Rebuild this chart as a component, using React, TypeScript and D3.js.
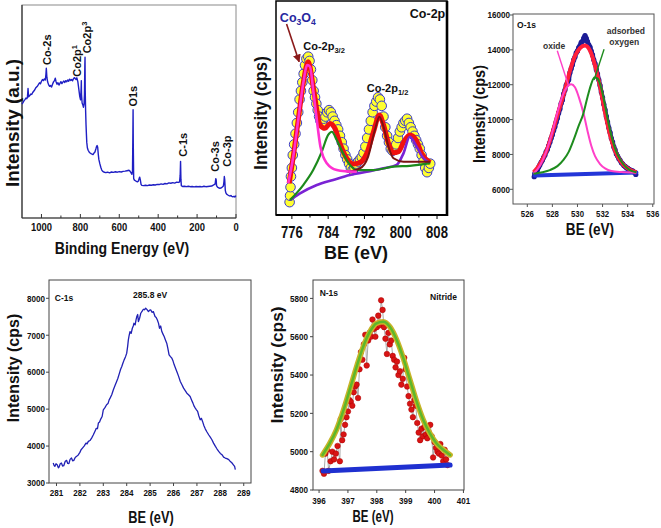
import React from 'react';
import * as d3 from 'd3';

const FONT = '"Liberation Sans", Arial, Helvetica, sans-serif';
type Pt = [number, number];
const pairs = (a: number[], b: number[]): Pt[] => a.map((v, i) => [v, b[i]] as Pt);

// ================= Panel (a): XPS survey =================
const surveyEnergy = [1100,1095,1090,1085,1080,1075,1072,1069,1066,1060,1055,1050,1045,1040,1035,1030,1025,1020,1015,1010,1005,1000,995,990,985,980,977,975,972,968,963,958,953,948,943,938,933,929,925,920,915,910,905,900,895,890,885,880,875,870,865,860,855,850,845,840,835,830,827,822,818,813,808,803,799,796,795,794,791,787,784,781,779,777,776,775,773,771,769,767,764,760,755,750,745,740,735,730,725,720,717,714,711,708,705,700,695,690,685,680,670,660,650,640,630,620,610,600,590,580,570,560,550,545,540,535,532,530,529,528,526,522,517,512,507,502,498,495,492,488,484,475,465,455,445,435,425,415,405,395,385,375,365,355,345,335,325,315,305,295,290,287,285,283,281,275,265,255,245,235,225,215,205,195,185,175,165,155,145,135,125,115,107,104,102,100,95,90,85,80,75,70,65,62,60,58,55,52,48,42,36,30,26,22,18,14,10,6,2,0];
const surveyIntensity = [53.5,54.2,55.0,55.6,56.3,56.0,56.8,60.8,56.9,57.5,58.2,58.0,58.9,59.5,60.1,61.0,61.5,62.0,62.7,63.5,63.0,64.2,65.0,64.5,65.3,64.8,67.5,70.3,66.0,63.8,62.5,61.8,62.2,61.5,62.8,63.9,64.5,65.6,64.0,62.8,63.5,62.4,63.2,64.0,63.1,63.8,64.3,63.6,64.5,64.0,64.8,64.2,65.2,64.6,65.0,64.4,65.5,65.9,65.5,65.0,65.8,64.0,60.5,57.0,55.5,61.0,64.5,58.0,54.0,53.0,52.0,53.5,58.0,72.0,75.5,60.0,50.5,44.0,39.5,35.5,33.0,31.8,31.0,30.5,30.2,30.0,29.8,30.5,31.0,32.5,33.5,34.0,33.2,30.0,27.5,25.5,23.8,22.5,21.9,21.6,21.3,21.5,21.2,21.6,21.4,21.7,21.5,21.8,21.6,21.9,22.0,22.2,22.4,22.0,21.3,20.5,22.0,40.0,50.8,35.0,18.5,17.8,17.5,17.2,17.0,17.3,18.5,19.2,18.0,15.8,15.3,15.2,15.4,15.2,15.5,15.4,15.6,15.5,15.8,15.7,16.0,15.8,16.2,16.0,16.5,16.3,16.6,16.4,16.8,16.7,17.0,20.0,26.6,18.0,15.2,14.8,14.9,14.7,14.9,14.7,14.8,14.6,14.8,14.7,14.8,14.6,14.9,14.7,14.8,14.9,15.0,15.5,16.0,18.5,18.0,15.2,14.5,14.2,14.0,14.0,14.2,14.6,15.0,17.0,19.5,18.0,13.0,11.8,11.2,10.8,10.5,10.3,10.6,10.2,10.0,10.0,10.2,9.8,10.3,10.5];
const surveyMajorTicks = [1000, 800, 600, 400, 200, 0];
const surveyMinorTicks = [900, 700, 500, 300, 100];
const surveyPeakNames = ['Co-2s', 'Co2p', 'Co2p', 'O1s', 'C-1s', 'Co-3s', 'Co-3p'];
const surveyPeakSup = ['', '1', '3', '', '', '', ''];
const surveyPeakEnergy = [973, 816, 764, 528, 274, 108, 43];
const surveyPeakLevel = [71.8, 66.3, 77.3, 52.3, 28.8, 21.7, 24.1];

// ================= Panel (b): Co-2p =================
const co2pDataBE = [775.5,775.6,775.7,775.8,776.0,776.2,776.5,776.8,777.1,777.4,777.7,778.0,778.3,778.6,778.9,779.2,779.6,779.9,780.2,780.5,780.8,781.1,781.4,781.7,782.0,782.3,782.7,783.0,783.4,783.8,784.2,784.6,785.0,785.4,785.8,786.2,786.6,787.0,787.4,787.8,788.2,788.6,789.0,789.4,789.8,790.2,790.6,791.0,791.4,791.8,792.2,792.6,793.0,793.4,793.8,794.2,794.6,795.0,795.4,795.8,796.2,796.6,797.0,797.4,797.8,798.2,798.6,799.0,799.4,799.8,800.2,800.6,801.0,801.4,801.8,802.2,802.6,803.0,803.4,803.8,804.2,804.6,805.0,805.4,805.8,806.2,806.5];
const co2pDataI = [6,9,13,18,22,28,33,38,43,48,54,58,62,66,70,73,74,72,68,63,58,55,52,49,46,44,43,45,46,48,49,48,46,44,42,40,37,34,31,28,26,24,22,21,22,24,25,26,27,29,32,36,40,44,48,51,53,55,54,51,46,41,37,34,31,30,31,33,36,39,41,43,44,45,43,41,39,37,35,33,31,28,25,22,20,22,24];
const co2pFitBE = [775.4,776.3,777.4,778.5,779.6,780.7,781.5,782.2,783.3,784.4,785.5,786.6,788.1,789.5,791.0,792.5,794.0,795.3,796.2,797.3,798.4,799.5,800.7,802.0,803.4,804.6,806.5];
const co2pFitI = [14.8,27.2,44.4,61.5,71.6,60.0,49.1,42.1,40.5,42.8,40.5,33.5,26.5,23.8,24.5,28.8,38.9,46.7,42.1,33.5,29.1,29.6,34.3,37.4,35.0,28.8,24.5];
const co2pMainBE = [775.2,776.3,777.4,778.5,779.4,780.0,780.7,781.5,782.3,783.7,785.9,788.0,790.3];
const co2pMainI = [14.8,27.2,44.4,61.5,70.1,69.3,58.4,44.4,31.9,24.2,21.0,20.4,20.2];
const co2pSatBE = [775.6,778.5,780.7,782.6,784.0,784.8,785.9,787.3,788.8,790.3,794.0,798.4,802.0,806.5];
const co2pSatI = [7.0,14.0,21.0,29.6,37.4,38.9,35.0,28.8,23.4,21.0,21.0,22.6,23.0,24.2];
const co2pHalfBE = [788.1,791.0,792.8,794.3,795.3,796.2,797.3,798.4,800.6,806.5];
const co2pHalfI = [20.2,21.8,27.2,39.7,45.9,41.3,31.9,26.5,24.9,24.9];
const co2pBaseBE = [775.56,777.8,781.5,785.1,788.8,792.5,796.2,799.1,800.6,802.0,803.5,805.0,806.5];
const co2pBaseI = [7.0,10.1,14.0,16.4,18.7,20.2,21.8,23.4,28.8,36.6,31.9,26.5,24.2];
const co2pMajorTicks = [776, 784, 792, 800, 808];
const co2pMinorTicks = [780, 788, 796, 804];

// ================= Panel (c): O-1s =================
const o1sDataBE = [526.55,526.6,526.7,526.8,526.9,527.0,527.1,527.2,527.3,527.4,527.5,527.6,527.7,527.8,527.9,528.0,528.1,528.2,528.3,528.4,528.5,528.6,528.7,528.8,528.9,529.0,529.1,529.2,529.3,529.4,529.5,529.6,529.7,529.8,529.9,530.0,530.1,530.2,530.3,530.4,530.5,530.6,530.7,530.8,530.9,531.0,531.1,531.2,531.3,531.4,531.5,531.6,531.7,531.8,531.9,532.0,532.1,532.2,532.3,532.4,532.5,532.6,532.7,532.8,532.9,533.0,533.1,533.2,533.3,533.4,533.5,533.6,533.7,533.8,533.9,534.0,534.1,534.2,534.3,534.4,534.5,534.6,534.65];
const o1sDataI = [6720,6900,7030,7100,7260,7400,7550,7660,7830,7950,8150,8280,8500,8700,8930,9130,9380,9590,9850,10080,10380,10600,10930,11130,11480,11690,11980,12140,12280,12690,12920,13140,13420,13590,13830,13940,14130,14240,14430,14490,14680,14820,14660,14470,14290,14160,13930,13710,13430,13210,12880,12610,12280,11960,11580,11260,10880,10560,10180,9860,9530,9260,8930,8710,8430,8260,8030,7910,7760,7660,7530,7460,7360,7310,7230,7210,7140,7110,7060,7060,6990,6960,6850];
const o1sFitBE = [526.5,527.0,527.5,528.0,528.5,529.0,529.4,529.8,530.2,530.6,531.0,531.4,531.8,532.2,532.6,533.0,533.4,533.9,534.3,534.7];
const o1sFitI = [6980,7440,8150,9250,10500,11700,12800,13650,14100,14250,13950,13100,11900,10400,9100,8200,7650,7250,7080,6980];
const o1sOxideBE = [526.5,527.0,527.5,528.0,528.4,528.8,529.2,529.5,529.8,530.1,530.5,530.8,531.1,531.4,531.8,532.2,532.7,533.5,534.7];
const o1sOxideI = [6890,7350,8150,9300,10400,11350,11900,12020,11850,11300,10300,9350,8500,7900,7450,7200,7050,6990,6960];
const o1sAdsBE = [526.5,527.2,527.8,528.4,528.9,529.3,529.7,530.1,530.45,530.8,531.1,531.35,531.6,531.9,532.2,532.5,532.8,533.1,533.5,533.9,534.3,534.7];
const o1sAdsI = [6890,6980,7100,7330,7700,8150,8850,9650,10300,11300,12050,12420,12350,11800,10800,9700,8800,8150,7600,7250,7060,6980];
const o1sBaseBE = [526.6, 534.7];
const o1sBaseI = [6790, 6970];
const o1sXTicks = [526, 528, 530, 532, 534, 536];
const o1sYTicks = [6000, 8000, 10000, 12000, 14000, 16000];

// ================= Panel (d): C-1s =================
const c1sBE = [280.86,280.9,280.93,280.98,281.03,281.08,281.11,281.16,281.21,281.26,281.31,281.37,281.43,281.48,281.53,281.58,281.64,281.69,281.74,281.8,281.86,281.93,282.0,282.05,282.11,282.18,282.26,282.31,282.36,282.43,282.5,282.57,282.64,282.7,282.75,282.79,282.84,282.89,282.95,283.0,283.07,283.14,283.2,283.25,283.29,283.36,283.43,283.5,283.57,283.62,283.69,283.74,283.79,283.84,283.89,283.95,284.0,284.04,284.07,284.1,284.14,284.19,284.24,284.28,284.31,284.36,284.4,284.43,284.47,284.5,284.55,284.6,284.66,284.71,284.76,284.81,284.86,284.93,284.98,285.03,285.08,285.14,285.17,285.21,285.26,285.31,285.36,285.4,285.45,285.5,285.55,285.6,285.65,285.71,285.76,285.81,285.87,285.93,285.98,286.03,286.09,286.14,286.21,286.29,286.36,286.43,286.5,286.57,286.64,286.71,286.77,286.83,286.88,286.93,286.98,287.03,287.08,287.14,287.19,287.24,287.3,287.36,287.43,287.5,287.57,287.64,287.71,287.79,287.86,287.93,288.0,288.07,288.14,288.21,288.28,288.36,288.43,288.5,288.55,288.61,288.64];
const c1sI = [3540,3470,3450,3520,3495,3410,3432,3520,3541,3460,3468,3580,3613,3530,3523,3640,3676,3600,3613,3690,3721,3760,3829,3900,3946,4000,4081,4060,4126,4150,4216,4300,4396,4480,4470,4622,4650,4730,4800,4982,5040,5117,5150,5250,5297,5390,5523,5640,5748,5830,5973,6080,6153,6250,6333,6420,6514,6700,6874,6980,7099,7050,7189,7250,7324,7280,7420,7505,7560,7369,7460,7595,7650,7703,7690,7730,7700,7640,7680,7685,7620,7640,7580,7505,7480,7414,7320,7189,7250,7099,7030,6964,6880,6784,6640,6468,6420,6378,6300,6198,6100,6018,5900,5748,5660,5568,5500,5432,5390,5342,5250,5162,5080,5027,4980,4937,4820,4712,4750,4667,4550,4459,4380,4306,4240,4171,4080,3991,3920,3856,3800,3766,3700,3676,3660,3631,3580,3541,3500,3450,3360];
const c1sXTicks = [281, 282, 283, 284, 285, 286, 287, 288, 289];
const c1sYTicks = [3000, 4000, 5000, 6000, 7000, 8000];

// ================= Panel (e): N-1s =================
const n1sDataBE = [396.12,396.17,396.22,396.28,396.33,396.4,396.46,396.52,396.58,396.64,396.72,396.75,396.8,396.85,396.9,396.95,397.0,397.05,397.1,397.15,397.2,397.25,397.3,397.35,397.4,397.45,397.5,397.55,397.6,397.65,397.7,397.75,397.8,397.85,397.9,397.95,398.0,398.05,398.1,398.15,398.2,398.25,398.3,398.35,398.4,398.45,398.5,398.55,398.6,398.65,398.7,398.75,398.8,398.85,398.9,398.95,399.0,399.05,399.1,399.15,399.2,399.25,399.3,399.35,399.4,399.45,399.5,399.55,399.6,399.65,399.7,399.75,399.8,399.85,399.9,399.95,400.0,400.05,400.1,400.15,400.2,400.25,400.3,400.35,400.4,400.45];
const n1sDataI = [4900,4885,4990,5010,4900,4950,5000,4960,4990,5030,4950,5170,5060,5090,5140,5180,5210,5270,5260,5240,5310,5340,5350,5280,5430,5520,5480,5560,5610,5450,5580,5620,5600,5690,5640,5600,5650,5710,5660,5790,5740,5650,5590,5510,5620,5560,5580,5500,5480,5440,5470,5400,5420,5350,5380,5490,5430,5340,5290,5250,5220,5180,5270,5240,5150,5100,5060,5120,5080,5130,5090,5070,5100,5140,5080,4970,5050,5020,5000,4990,5040,4980,4950,5010,4960,4930];
const n1sFitBE = [396.12,396.37,396.6,396.83,397.06,397.3,397.53,397.76,397.99,398.22,398.45,398.69,398.92,399.15,399.38,399.61,399.84,400.07,400.31,400.54];
const n1sFitI = [4983,5043,5113,5209,5322,5443,5548,5626,5670,5678,5652,5583,5487,5374,5261,5165,5096,5043,5009,4983];
const n1sBaseBE = [396.14, 400.54];
const n1sBaseI = [4899, 4930];
const n1sXTicks = [396, 397, 398, 399, 400, 401];
const n1sYTicks = [4800, 5000, 5200, 5400, 5600, 5800];

// ---------- helpers ----------
type TxtProps = {
  x: number; y: number; size: number; children?: any; anchor?: string; rotate?: number;
  sx?: number; bold?: boolean; fill?: string; dy?: string;
};
const Txt = ({ x, y, size, children, anchor = 'middle', rotate = 0, sx = 1, bold = true, fill = '#111', dy }: TxtProps) => (
  <text
    transform={`translate(${x},${y}) rotate(${rotate}) scale(${sx},1)`}
    fontFamily={FONT}
    fontSize={size}
    fontWeight={bold ? 'bold' : 'normal'}
    textAnchor={anchor}
    fill={fill}
    dy={dy}
  >
    {children}
  </text>
);

function SurveyPanel() {
  const x = d3.scaleLinear().domain([1100, 0]).range([22, 236]);
  const y = d3.scaleLinear().domain([0, 100]).range([218, 5]);
  const [x0, x1] = x.range();
  const [yb, yt] = y.range();
  const line = d3.line<Pt>().x(d => x(d[0])).y(d => y(d[1]));
  return (
    <g>
      <rect x={x0} y={yt} width={x1 - x0} height={yb - yt} fill="none" stroke="#8a8a8a" strokeWidth={1} />
      <line x1={x0} x2={x0} y1={yt} y2={yb} stroke="#333" strokeWidth={1.2} />
      <line x1={x0} x2={x1} y1={yb} y2={yb} stroke="#333" strokeWidth={1.2} />
      {surveyMajorTicks.map(t => <line key={'M' + t} x1={x(t)} x2={x(t)} y1={yb} y2={yb - 4} stroke="#333" />)}
      {surveyMinorTicks.map(t => <line key={'m' + t} x1={x(t)} x2={x(t)} y1={yb} y2={yb - 2.5} stroke="#333" />)}
      <path d={line(pairs(surveyEnergy, surveyIntensity)) ?? ''} fill="none" stroke="#1f1fc4" strokeWidth={1.4} strokeLinejoin="round" />
      {surveyMajorTicks.map(t => <Txt key={'L' + t} x={x(t)} y={231} size={11.5} sx={0.82}>{t}</Txt>)}
      <Txt x={122} y={254} size={16} sx={0.88}>Binding Energy (eV)</Txt>
      <Txt x={18.5} y={123} size={18} sx={1.05} rotate={-90}>Intensity (a.u.)</Txt>
      {surveyPeakNames.map((n, i) => (
        <Txt key={n + i} x={x(surveyPeakEnergy[i])} y={y(surveyPeakLevel[i])} size={11} rotate={-90} anchor="start" dy="0.35em">
          {n}
          {surveyPeakSup[i] ? <tspan dy={-4} fontSize={7.5}>{surveyPeakSup[i]}</tspan> : null}
        </Txt>
      ))}
    </g>
  );
}

function Co2pPanel() {
  const x = d3.scaleLinear().domain([772.5, 810.2]).range([276, 447]);
  const y = d3.scaleLinear().domain([0, 100]).range([215, 1]);
  const [x0, x1] = x.range();
  const [yb, yt] = y.range();
  const line = d3.line<Pt>().x(d => x(d[0])).y(d => y(d[1])).curve(d3.curveMonotoneX);
  const p = (a: number[], b: number[]) => line(pairs(a, b)) ?? '';
  return (
    <g>
      <defs>
        <marker id="arrowHead" viewBox="0 0 10 10" refX="9" refY="5" markerWidth="5" markerHeight="5" orient="auto">
          <path d="M0,0 L10,5 L0,10 z" fill="#8b1a1a" />
        </marker>
      </defs>
      {pairs(co2pDataBE, co2pDataI).map((d, i) => (
        <circle key={i} cx={x(d[0])} cy={y(d[1])} r={4.8} fill="#ffff30" stroke="#3a3ad0" strokeWidth={1} />
      ))}
      <path d={p(co2pFitBE, co2pFitI)} fill="none" stroke="#f01010" strokeWidth={5} strokeLinejoin="round" />
      <path d={p(co2pBaseBE, co2pBaseI)} fill="none" stroke="#7a22d4" strokeWidth={2.6} />
      <path d={p(co2pSatBE, co2pSatI)} fill="none" stroke="#1c8a1c" strokeWidth={2.2} />
      <path d={p(co2pHalfBE, co2pHalfI)} fill="none" stroke="#7a1212" strokeWidth={2} />
      <path d={p(co2pMainBE, co2pMainI)} fill="none" stroke="#ff30d0" strokeWidth={2.6} />
      <rect x={x0} y={yt} width={x1 - x0} height={yb - yt} fill="none" stroke="#000" strokeWidth={1.5} />
      <line x1={x1} x2={x1} y1={yt} y2={yb + 1} stroke="#000" strokeWidth={2.6} />
      <line x1={x0} x2={x1} y1={yb} y2={yb} stroke="#000" strokeWidth={2} />
      {co2pMajorTicks.map(t => <line key={'M' + t} x1={x(t)} x2={x(t)} y1={yb} y2={yb + 4} stroke="#000" />)}
      {co2pMinorTicks.map(t => <line key={'m' + t} x1={x(t)} x2={x(t)} y1={yb} y2={yb + 2.5} stroke="#000" />)}
      {co2pMajorTicks.map(t => <Txt key={'L' + t} x={x(t)} y={237.5} size={16} sx={0.82}>{t}</Txt>)}
      <Txt x={356} y={259} size={18}>BE (eV)</Txt>
      <Txt x={267} y={113} size={18} sx={0.93} rotate={-90}>Intensity (cps)</Txt>
      <Txt x={x(802.0)} y={y(91.9)} size={12.5} anchor="start">Co-2p</Txt>
      <Txt x={x(773.35)} y={y(90.2)} size={12.5} anchor="start" fill="#2727a0">
        Co<tspan fontSize={8.5} dy={3}>3</tspan><tspan dy={-3}>O</tspan><tspan fontSize={8.5} dy={3}>4</tspan>
      </Txt>
      <line x1={x(774.83)} y1={y(89.3)} x2={x(777.6)} y2={y(71.6)} stroke="#8b1a1a" strokeWidth={1.6} markerEnd="url(#arrowHead)" />
      <Txt x={x(778.5)} y={y(77.1)} size={11} anchor="start">
        Co-2p<tspan fontSize={7.5} dy={3}>3/2</tspan>
      </Txt>
      <Txt x={x(792.5)} y={y(57.6)} size={11} anchor="start">
        Co-2p<tspan fontSize={7.5} dy={3}>1/2</tspan>
      </Txt>
    </g>
  );
}

function O1sPanel() {
  const x = d3.scaleLinear().domain([524.86, 536.1]).range([513, 654]);
  const y = d3.scaleLinear().domain([5157, 16057]).range([204, 14]);
  const [x0, x1] = x.range();
  const [yb, yt] = y.range();
  const line = d3.line<Pt>().x(d => x(d[0])).y(d => y(d[1])).curve(d3.curveMonotoneX);
  const p = (a: number[], b: number[]) => line(pairs(a, b)) ?? '';
  const data = pairs(o1sDataBE, o1sDataI);
  return (
    <g>
      <rect x={x0} y={yt} width={x1 - x0} height={yb - yt} fill="none" stroke="#555" strokeWidth={1} />
      {o1sXTicks.map(t => <line key={'x' + t} x1={x(t)} x2={x(t)} y1={yb} y2={yb + 3} stroke="#555" />)}
      {o1sYTicks.map(t => <line key={'y' + t} x1={x0} x2={x0 - 3} y1={y(t)} y2={y(t)} stroke="#555" />)}
      <path d={p(o1sDataBE, o1sDataI)} fill="none" stroke="#1c1c96" strokeWidth={4.5} strokeLinejoin="round" />
      {data.map((d, i) => <circle key={i} cx={x(d[0])} cy={y(d[1])} r={2.6} fill="#1c1c96" />)}
      <path d={p(o1sBaseBE, o1sBaseI)} fill="none" stroke="#2336d8" strokeWidth={4} strokeLinecap="round" />
      <path d={p(o1sFitBE, o1sFitI)} fill="none" stroke="#ff1f3a" strokeWidth={4} />
      <path d={p(o1sOxideBE, o1sOxideI)} fill="none" stroke="#ff40c8" strokeWidth={2} />
      <path d={p(o1sAdsBE, o1sAdsI)} fill="none" stroke="#1e8c1e" strokeWidth={2} />
      <line x1={x(528.39)} y1={y(13952)} x2={x(529.27)} y2={y(11984)} stroke="#ff40c8" strokeWidth={1.4} />
      <line x1={x(532.12)} y1={y(14030)} x2={x(531.32)} y2={y(12271)} stroke="#1e8c1e" strokeWidth={1.4} />
      {o1sXTicks.map(t => <Txt key={'lx' + t} x={x(t)} y={216.5} size={9.5} sx={0.82}>{t}</Txt>)}
      {o1sYTicks.map(t => <Txt key={'ly' + t} x={510} y={y(t) + 3.3} size={9.5} sx={0.85} anchor="end">{t}</Txt>)}
      <Txt x={590} y={235} size={17} sx={0.8}>BE (eV)</Txt>
      <Txt x={485} y={114} size={17} sx={0.85} rotate={-90}>Intensity (cps)</Txt>
      <Txt x={x(525.18)} y={y(15254)} size={8.5} anchor="start">O-1s</Txt>
      <Txt x={x(527.25)} y={y(14049)} size={8.5} anchor="start" fill="#333">oxide</Txt>
      <Txt x={x(532.33)} y={y(14910)} size={8.5} anchor="start" fill="#333">adsorbed</Txt>
      <Txt x={x(532.54)} y={y(14279)} size={8.5} anchor="start" fill="#333">oxygen</Txt>
    </g>
  );
}

function C1sPanel() {
  const x = d3.scaleLinear().domain([280.68, 289.31]).range([49, 251]);
  const y = d3.scaleLinear().domain([3000, 8495]).range([483, 280]);
  const [x0, x1] = x.range();
  const [yb, yt] = y.range();
  const line = d3.line<Pt>().x(d => x(d[0])).y(d => y(d[1]));
  return (
    <g>
      <rect x={x0} y={yt} width={x1 - x0} height={yb - yt} fill="none" stroke="#444" strokeWidth={1} />
      {c1sXTicks.map(t => <line key={'x' + t} x1={x(t)} x2={x(t)} y1={yb} y2={yb + 3} stroke="#444" />)}
      {c1sYTicks.map(t => <line key={'y' + t} x1={x0} x2={x0 - 3} y1={y(t)} y2={y(t)} stroke="#444" />)}
      <path d={line(pairs(c1sBE, c1sI)) ?? ''} fill="none" stroke="#2020b4" strokeWidth={1.3} strokeLinejoin="round" />
      {c1sXTicks.map(t => <Txt key={'lx' + t} x={x(t)} y={496} size={9.5} sx={0.85}>{t}</Txt>)}
      {c1sYTicks.map(t => <Txt key={'ly' + t} x={45} y={y(t) + 3.3} size={9.5} sx={0.85} anchor="end">{t}</Txt>)}
      <Txt x={151} y={523} size={16} sx={0.8}>BE (eV)</Txt>
      <Txt x={18.5} y={368} size={16} rotate={-90}>Intensity (cps)</Txt>
      <Txt x={x(280.93)} y={y(7927)} size={8.5} anchor="start">C-1s</Txt>
      <Txt x={x(285.0)} y={y(7995)} size={8.5}>285.8 eV</Txt>
    </g>
  );
}

function N1sPanel() {
  const x = d3.scaleLinear().domain([395.79, 401.02]).range([313, 464]);
  const y = d3.scaleLinear().domain([4800, 5896]).range([490, 280]);
  const [x0, x1] = x.range();
  const [yb, yt] = y.range();
  const lin = d3.line<Pt>().x(d => x(d[0])).y(d => y(d[1]));
  const smooth = d3.line<Pt>().x(d => x(d[0])).y(d => y(d[1])).curve(d3.curveMonotoneX);
  const data = pairs(n1sDataBE, n1sDataI);
  const fit = smooth(pairs(n1sFitBE, n1sFitI)) ?? '';
  return (
    <g>
      <rect x={x0} y={yt} width={x1 - x0} height={yb - yt} fill="none" stroke="#444" strokeWidth={1} />
      {n1sXTicks.map(t => <line key={'x' + t} x1={x(t)} x2={x(t)} y1={yb} y2={yb + 3} stroke="#444" />)}
      {n1sYTicks.map(t => <line key={'y' + t} x1={x0} x2={x0 - 3} y1={y(t)} y2={y(t)} stroke="#444" />)}
      <path d={lin(data) ?? ''} fill="none" stroke="#a0a0a0" strokeWidth={0.9} />
      {data.map((d, i) => <circle key={i} cx={x(d[0])} cy={y(d[1])} r={2.8} fill="#d81414" stroke="#a00" strokeWidth={0.5} />)}
      <path d={lin(pairs(n1sBaseBE, n1sBaseI)) ?? ''} fill="none" stroke="#1f30d0" strokeWidth={5} strokeLinecap="round" />
      <path d={fit} fill="none" stroke="#c8b428" strokeWidth={5.5} strokeLinecap="round" />
      <path d={fit} fill="none" stroke="#5cb82a" strokeWidth={2.5} strokeLinecap="round" />
      {n1sXTicks.map(t => <Txt key={'lx' + t} x={x(t)} y={503.5} size={9.5} sx={0.85}>{t}</Txt>)}
      {n1sYTicks.map(t => <Txt key={'ly' + t} x={308} y={y(t) + 3.3} size={9.5} sx={0.85} anchor="end">{t}</Txt>)}
      <Txt x={373} y={522} size={16} sx={0.72}>BE (eV)</Txt>
      <Txt x={283} y={365} size={16} sx={1.08} rotate={-90}>Intensity (cps)</Txt>
      <Txt x={x(396.02)} y={y(5812)} size={8.5} anchor="start">N-1s</Txt>
      <Txt x={x(400.31)} y={y(5791)} size={8.5}>Nitride</Txt>
    </g>
  );
}

export default function App() {
  return (
    <svg
      width={661}
      height={528}
      viewBox="0 0 661 528"
      style={{ position: 'absolute', left: 0, top: 0, background: '#fff' }}
      xmlns="http://www.w3.org/2000/svg"
    >
      <rect x={0} y={0} width={661} height={528} fill="#fff" />
      <SurveyPanel />
      <Co2pPanel />
      <O1sPanel />
      <C1sPanel />
      <N1sPanel />
    </svg>
  );
}
